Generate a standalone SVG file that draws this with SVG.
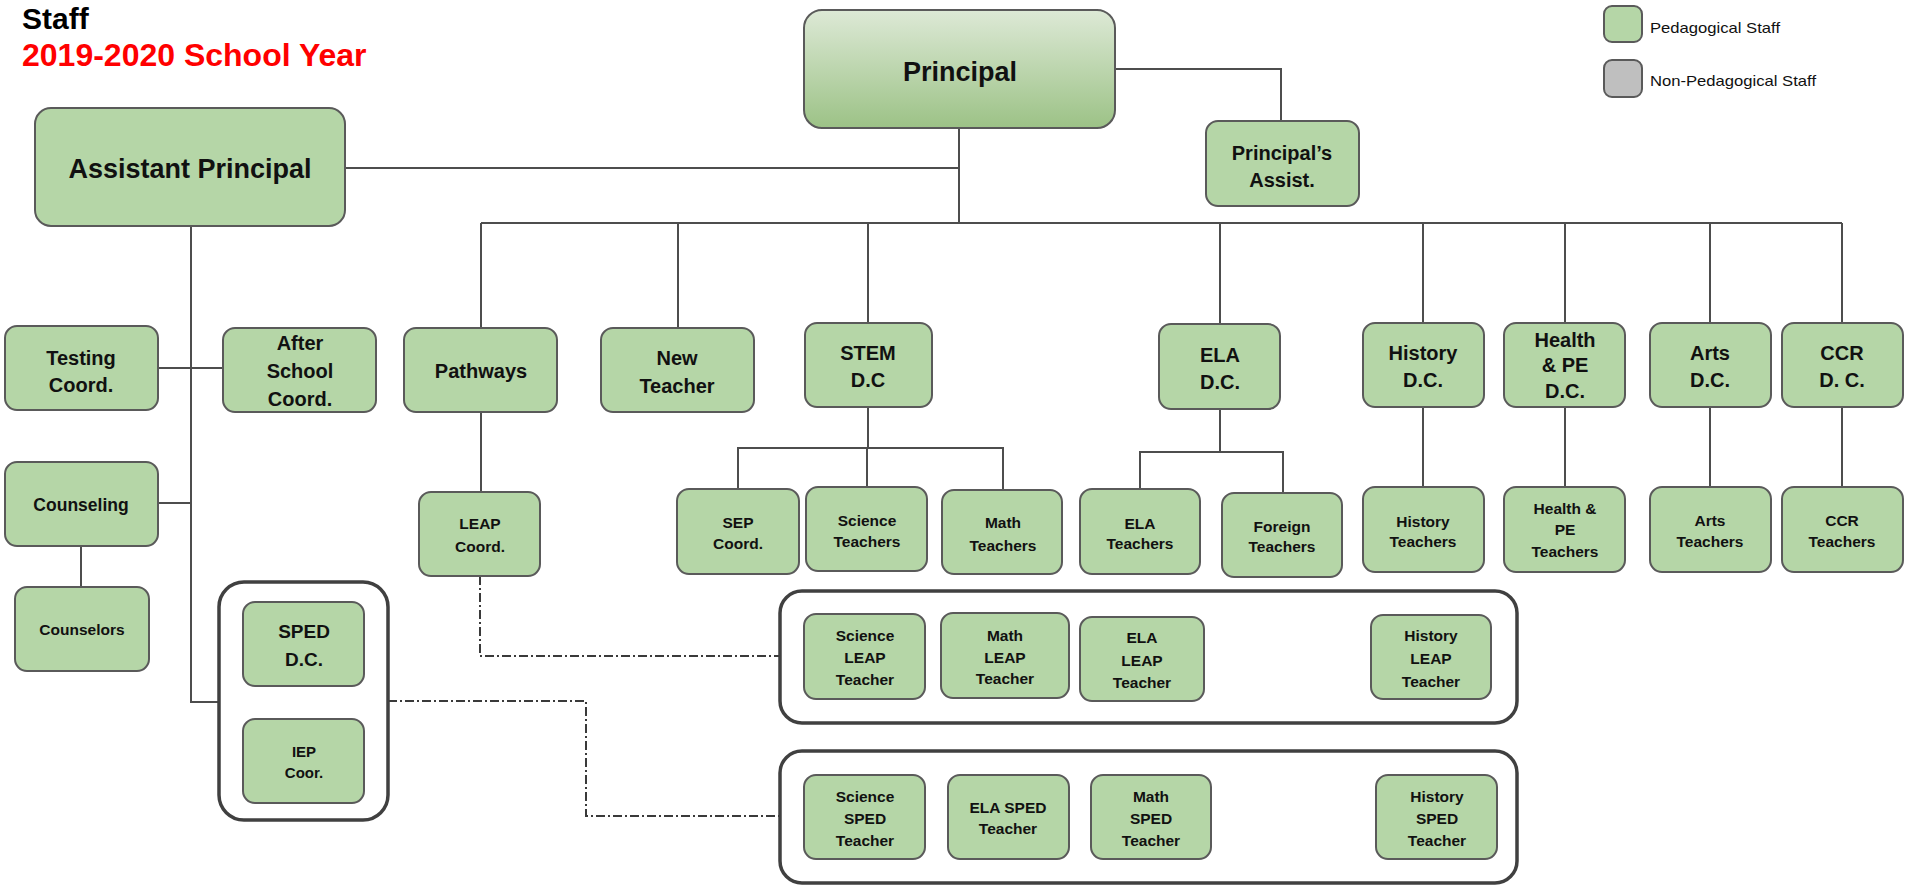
<svg xmlns="http://www.w3.org/2000/svg" width="1911" height="887" viewBox="0 0 1911 887">
<defs>
<linearGradient id="pg" x1="0" y1="0" x2="0" y2="1">
<stop offset="0" stop-color="#dde9d6"/>
<stop offset="1" stop-color="#9cc286"/>
</linearGradient>
<style>
.box{fill:#b5d6a7;stroke:#5a5a5a;stroke-width:2}
.grp{fill:none;stroke:#404040;stroke-width:3.5}
.ln{fill:none;stroke:#4d4d4d;stroke-width:2}
.dd{fill:none;stroke:#3a3a3a;stroke-width:2;stroke-dasharray:9 3 2 3}
text{font-family:"Liberation Sans",Arial,sans-serif;font-weight:bold;fill:#111;text-anchor:middle}
.t20{font-size:20px}
.t15{font-size:15.5px}
.lg{font-weight:normal;font-size:15px;text-anchor:start}
</style>
</defs>
<rect width="1911" height="887" fill="#fff"/>
<text x="22" y="29" style="font-size:30px;text-anchor:start;fill:#000">Staff</text>
<text x="22" y="66" style="font-size:32px;text-anchor:start;fill:#ff0000">2019-2020 School Year</text>

<g id="connectors">
<path class="ln" d="M345,168 H959"/>
<path class="ln" d="M959,128 V223"/>
<path class="ln" d="M1115,69 H1281 V121"/>
<path class="ln" d="M481,223 H1842"/>
<path class="ln" d="M481,223 V328 M678,223 V328 M868,223 V323 M1220,223 V324 M1423,223 V323 M1565,223 V323 M1710,223 V323 M1842,223 V323"/>
<path class="ln" d="M191,226 V702 H219"/>
<path class="ln" d="M158,368 H223"/>
<path class="ln" d="M158,503 H191"/>
<path class="ln" d="M81,546 V587"/>
<path class="ln" d="M481,412 V492"/>
<path class="ln" d="M868,407 V448 M738,489 V448 H1003 V490 M867,448 V487"/>
<path class="ln" d="M1220,409 V452 M1140,489 V452 H1283 V493"/>
<path class="ln" d="M1423,407 V487 M1565,407 V487 M1710,407 V487 M1842,407 V487"/>
<path class="dd" d="M480,576 V656 H780"/>
<path class="dd" d="M388,701 H586 V816 H780"/>
</g>

<g id="legend">
<rect x="1604" y="6" width="38" height="36" rx="8" class="box"/>
<text x="1650" y="33" class="lg" textLength="130" lengthAdjust="spacingAndGlyphs">Pedagogical Staff</text>
<rect x="1604" y="60" width="38" height="37" rx="8" style="fill:#bfbfbf;stroke:#5a5a5a;stroke-width:2"/>
<text x="1650" y="86" class="lg" textLength="166" lengthAdjust="spacingAndGlyphs">Non-Pedagogical Staff</text>
</g>

<g id="principal"><rect x="804" y="10" width="311" height="118" rx="18" style="fill:url(#pg);stroke:#5a5a5a;stroke-width:2"/><text x="960" y="81" style="font-size:27px">Principal</text></g>
<g id="assistant-principal"><rect x="35" y="108" width="310" height="118" rx="16" class="box"/><text x="190" y="178" style="font-size:27px">Assistant Principal</text></g>
<g id="principals-assist"><rect x="1206" y="121" width="153" height="85" rx="12" class="box"/><text x="1282" y="160" class="t20">Principal’s</text><text x="1282" y="187" class="t20">Assist.</text></g>

<g id="testing"><rect x="5" y="326" width="153" height="84" rx="12" class="box"/><text x="81" y="365" class="t20">Testing</text><text x="81" y="392" class="t20">Coord.</text></g>
<g id="after-school"><rect x="223" y="328" width="153" height="84" rx="12" class="box"/><text x="300" y="350" class="t20">After</text><text x="300" y="378" class="t20">School</text><text x="300" y="406" class="t20">Coord.</text></g>
<g id="pathways"><rect x="404" y="328" width="153" height="84" rx="12" class="box"/><text x="481" y="378" class="t20">Pathways</text></g>
<g id="new-teacher"><rect x="601" y="328" width="153" height="84" rx="12" class="box"/><text x="677" y="365" class="t20">New</text><text x="677" y="393" class="t20">Teacher</text></g>
<g id="stem"><rect x="805" y="323" width="127" height="84" rx="12" class="box"/><text x="868" y="360" class="t20">STEM</text><text x="868" y="387" class="t20">D.C</text></g>
<g id="ela-dc"><rect x="1159" y="324" width="121" height="85" rx="12" class="box"/><text x="1220" y="362" class="t20">ELA</text><text x="1220" y="389" class="t20">D.C.</text></g>
<g id="history-dc"><rect x="1363" y="323" width="121" height="84" rx="12" class="box"/><text x="1423" y="360" class="t20">History</text><text x="1423" y="387" class="t20">D.C.</text></g>
<g id="health-dc"><rect x="1504" y="323" width="121" height="84" rx="12" class="box"/><text x="1565" y="347" class="t20">Health</text><text x="1565" y="372" class="t20">&amp; PE</text><text x="1565" y="398" class="t20">D.C.</text></g>
<g id="arts-dc"><rect x="1650" y="323" width="121" height="84" rx="12" class="box"/><text x="1710" y="360" class="t20">Arts</text><text x="1710" y="387" class="t20">D.C.</text></g>
<g id="ccr-dc"><rect x="1782" y="323" width="121" height="84" rx="12" class="box"/><text x="1842" y="360" class="t20">CCR</text><text x="1842" y="387" class="t20">D. C.</text></g>

<g id="counseling"><rect x="5" y="462" width="153" height="84" rx="12" class="box"/><text x="81" y="511" style="font-size:17.5px">Counseling</text></g>
<g id="counselors"><rect x="15" y="587" width="134" height="84" rx="12" class="box"/><text x="82" y="635" class="t15">Counselors</text></g>
<g id="leap-coord"><rect x="419" y="492" width="121" height="84" rx="12" class="box"/><text x="480" y="529" class="t15">LEAP</text><text x="480" y="552" class="t15">Coord.</text></g>
<g id="sep-coord"><rect x="677" y="489" width="122" height="85" rx="12" class="box"/><text x="738" y="528" class="t15">SEP</text><text x="738" y="549" class="t15">Coord.</text></g>
<g id="science-teachers"><rect x="806" y="487" width="121" height="84" rx="12" class="box"/><text x="867" y="526" class="t15">Science</text><text x="867" y="547" class="t15">Teachers</text></g>
<g id="math-teachers"><rect x="942" y="490" width="120" height="84" rx="12" class="box"/><text x="1003" y="528" class="t15">Math</text><text x="1003" y="551" class="t15">Teachers</text></g>
<g id="ela-teachers"><rect x="1080" y="489" width="120" height="85" rx="12" class="box"/><text x="1140" y="529" class="t15">ELA</text><text x="1140" y="549" class="t15">Teachers</text></g>
<g id="foreign-teachers"><rect x="1222" y="493" width="120" height="84" rx="12" class="box"/><text x="1282" y="532" class="t15">Foreign</text><text x="1282" y="552" class="t15">Teachers</text></g>
<g id="history-teachers"><rect x="1363" y="487" width="121" height="85" rx="12" class="box"/><text x="1423" y="527" class="t15">History</text><text x="1423" y="547" class="t15">Teachers</text></g>
<g id="health-teachers"><rect x="1504" y="487" width="121" height="85" rx="12" class="box"/><text x="1565" y="514" class="t15">Health &amp;</text><text x="1565" y="535" class="t15">PE</text><text x="1565" y="557" class="t15">Teachers</text></g>
<g id="arts-teachers"><rect x="1650" y="487" width="121" height="85" rx="12" class="box"/><text x="1710" y="526" class="t15">Arts</text><text x="1710" y="547" class="t15">Teachers</text></g>
<g id="ccr-teachers"><rect x="1782" y="487" width="121" height="85" rx="12" class="box"/><text x="1842" y="526" class="t15">CCR</text><text x="1842" y="547" class="t15">Teachers</text></g>

<g id="sped-group"><rect x="219" y="582" width="169" height="238" rx="25" class="grp"/></g>
<g id="sped-dc"><rect x="243" y="602" width="121" height="84" rx="12" class="box"/><text x="304" y="638" style="font-size:19px">SPED</text><text x="304" y="666" style="font-size:19px">D.C.</text></g>
<g id="iep-coor"><rect x="243" y="719" width="121" height="84" rx="12" class="box"/><text x="304" y="757" style="font-size:15px">IEP</text><text x="304" y="778" style="font-size:15px">Coor.</text></g>

<g id="leap-group"><rect x="780" y="591" width="737" height="132" rx="22" class="grp"/></g>
<g id="science-leap"><rect x="804" y="614" width="121" height="85" rx="12" class="box"/><text x="865" y="641" class="t15">Science</text><text x="865" y="663" class="t15">LEAP</text><text x="865" y="685" class="t15">Teacher</text></g>
<g id="math-leap"><rect x="941" y="613" width="128" height="85" rx="12" class="box"/><text x="1005" y="641" class="t15">Math</text><text x="1005" y="663" class="t15">LEAP</text><text x="1005" y="684" class="t15">Teacher</text></g>
<g id="ela-leap"><rect x="1080" y="617" width="124" height="84" rx="12" class="box"/><text x="1142" y="643" class="t15">ELA</text><text x="1142" y="666" class="t15">LEAP</text><text x="1142" y="688" class="t15">Teacher</text></g>
<g id="history-leap"><rect x="1371" y="615" width="120" height="84" rx="12" class="box"/><text x="1431" y="641" class="t15">History</text><text x="1431" y="664" class="t15">LEAP</text><text x="1431" y="687" class="t15">Teacher</text></g>

<g id="sped-teachers-group"><rect x="780" y="751" width="737" height="132" rx="22" class="grp"/></g>
<g id="science-sped"><rect x="804" y="775" width="121" height="84" rx="12" class="box"/><text x="865" y="802" class="t15">Science</text><text x="865" y="824" class="t15">SPED</text><text x="865" y="846" class="t15">Teacher</text></g>
<g id="ela-sped"><rect x="948" y="775" width="121" height="84" rx="12" class="box"/><text x="1008" y="813" class="t15">ELA SPED</text><text x="1008" y="834" class="t15">Teacher</text></g>
<g id="math-sped"><rect x="1091" y="775" width="120" height="84" rx="12" class="box"/><text x="1151" y="802" class="t15">Math</text><text x="1151" y="824" class="t15">SPED</text><text x="1151" y="846" class="t15">Teacher</text></g>
<g id="history-sped"><rect x="1376" y="775" width="121" height="84" rx="12" class="box"/><text x="1437" y="802" class="t15">History</text><text x="1437" y="824" class="t15">SPED</text><text x="1437" y="846" class="t15">Teacher</text></g>
</svg>
